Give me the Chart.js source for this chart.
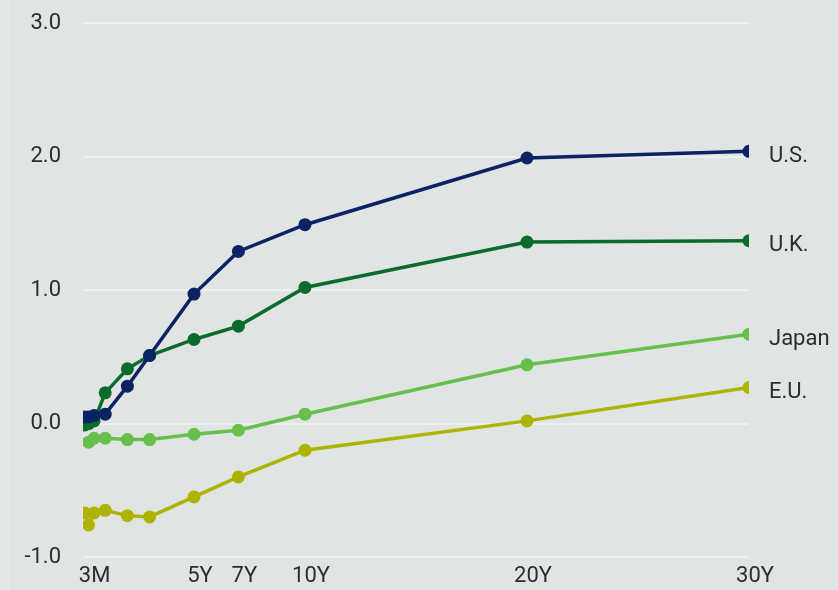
<!DOCTYPE html>
<html>
<head>
<meta charset="UTF-8">
<title>Yield curves</title>
<script src="https://cdn.jsdelivr.net/npm/chart.js@4.4.1/dist/chart.umd.min.js"></script>
<style type="text/css">
    html, body { margin: 0; padding: 0; background: #e5e7e7; overflow: hidden; }
    #bg { position: absolute; left: 10px; top: 0; width: 828px; height: 590px; background: #e0e4e3; }
    #holder { position: absolute; left: 10px; top: -12px; width: 828px; height: 606px; }
</style>
</head>
<body>
<div id="bg"></div>
<div id="holder">
    <canvas id="chart-area"></canvas>
</div>
<script>
    // maturities in years: 1M 3M 6M 1Y 2Y 3Y 5Y 7Y 10Y 20Y 30Y
    var maturities = [1 / 12, 0.25, 0.5, 1, 2, 3, 5, 7, 10, 20, 30];
    var tickValues = [0.25, 5, 7, 10, 20, 30];
    var tickLabels = ['3M', '5Y', '7Y', '10Y', '20Y', '30Y'];

    var countries = ['U.S.', 'U.K.', 'Japan', 'E.U.'];
    var colors = ['#0b2263', '#0b6b2c', '#67bf4c', '#aeb300'];

    var usYields = [0.05, 0.05, 0.06, 0.07, 0.28, 0.51, 0.97, 1.29, 1.49, 1.99, 2.04];
    var ukYields = [-0.01, 0.00, 0.02, 0.23, 0.41, 0.51, 0.63, 0.73, 1.02, 1.36, 1.37];
    var jpYields = [null, -0.14, -0.11, -0.11, -0.12, -0.12, -0.08, -0.05, 0.07, 0.44, 0.67];
    var euYields = [-0.67, -0.76, -0.67, -0.65, -0.69, -0.70, -0.55, -0.40, -0.20, 0.02, 0.27];

    var allYields = [usYields, ukYields, jpYields, euYields];

    function toPoints(arr) {
        var pts = [];
        for (var i = 0; i < arr.length; i++) {
            if (arr[i] !== null) pts.push({ x: maturities[i], y: arr[i] });
        }
        return pts;
    }

    var datasets = [];
    for (var k = 0; k < countries.length; k++) {
        datasets.push({
            label: countries[k],
            data: toPoints(allYields[k]),
            borderColor: colors[k],
            backgroundColor: colors[k],
            borderWidth: 3.5,
            pointRadius: 6.5,
            pointHoverRadius: 6.5,
            pointBorderWidth: 0,
            tension: 0
        });
    }

    // draw the country name after the last point of each line
    var endLabels = {
        id: 'endLabels',
        afterDatasetsDraw: function (chart) {
            var ctx = chart.ctx;
            ctx.save();
            ctx.font = '22px Roboto';
            ctx.fillStyle = '#2a2e33';
            ctx.textAlign = 'left';
            ctx.textBaseline = 'middle';
            chart.data.datasets.forEach(function (ds, i) {
                var meta = chart.getDatasetMeta(i);
                var last = meta.data[meta.data.length - 1];
                ctx.fillText(ds.label, last.x + 20, last.y + 5);
            });
            ctx.restore();
        }
    };

    var ctx = document.getElementById('chart-area').getContext('2d');
    window.myLine = new Chart(ctx, {
        type: 'line',
        data: { datasets: datasets },
        options: {
            responsive: true,
            maintainAspectRatio: false,
            animation: false,
            layout: { padding: { left: 0, right: 89, top: 0, bottom: 0 } },
            plugins: {
                legend: { display: false },
                tooltip: { enabled: false }
            },
            scales: {
                x: {
                    type: 'linear',
                    min: 0,
                    max: 30,
                    afterBuildTicks: function (axis) {
                        axis.ticks = tickValues.map(function (v) { return { value: v }; });
                    },
                    afterFit: function (axis) { axis.height = 37; },
                    grid: { display: false, drawTicks: false },
                    border: { display: false },
                    ticks: {
                        autoSkip: false,
                        maxRotation: 0,
                        padding: 6,
                        labelOffset: 6,
                        color: '#2a2e33',
                        font: { family: 'Roboto', size: 22 },
                        callback: function (v) {
                            var i = tickValues.indexOf(v);
                            return i >= 0 ? tickLabels[i] : '';
                        }
                    }
                },
                y: {
                    min: -1,
                    max: 3,
                    afterFit: function (axis) { axis.width = 73; },
                    grid: { color: '#eef0f0', lineWidth: 2, drawTicks: false },
                    border: { display: false },
                    ticks: {
                        stepSize: 1,
                        padding: 22,
                        color: '#2a2e33',
                        font: { family: 'Roboto', size: 22 },
                        callback: function (v) { return v.toFixed(1); }
                    }
                }
            }
        },
        plugins: [endLabels]
    });
</script>
</body>
</html>
